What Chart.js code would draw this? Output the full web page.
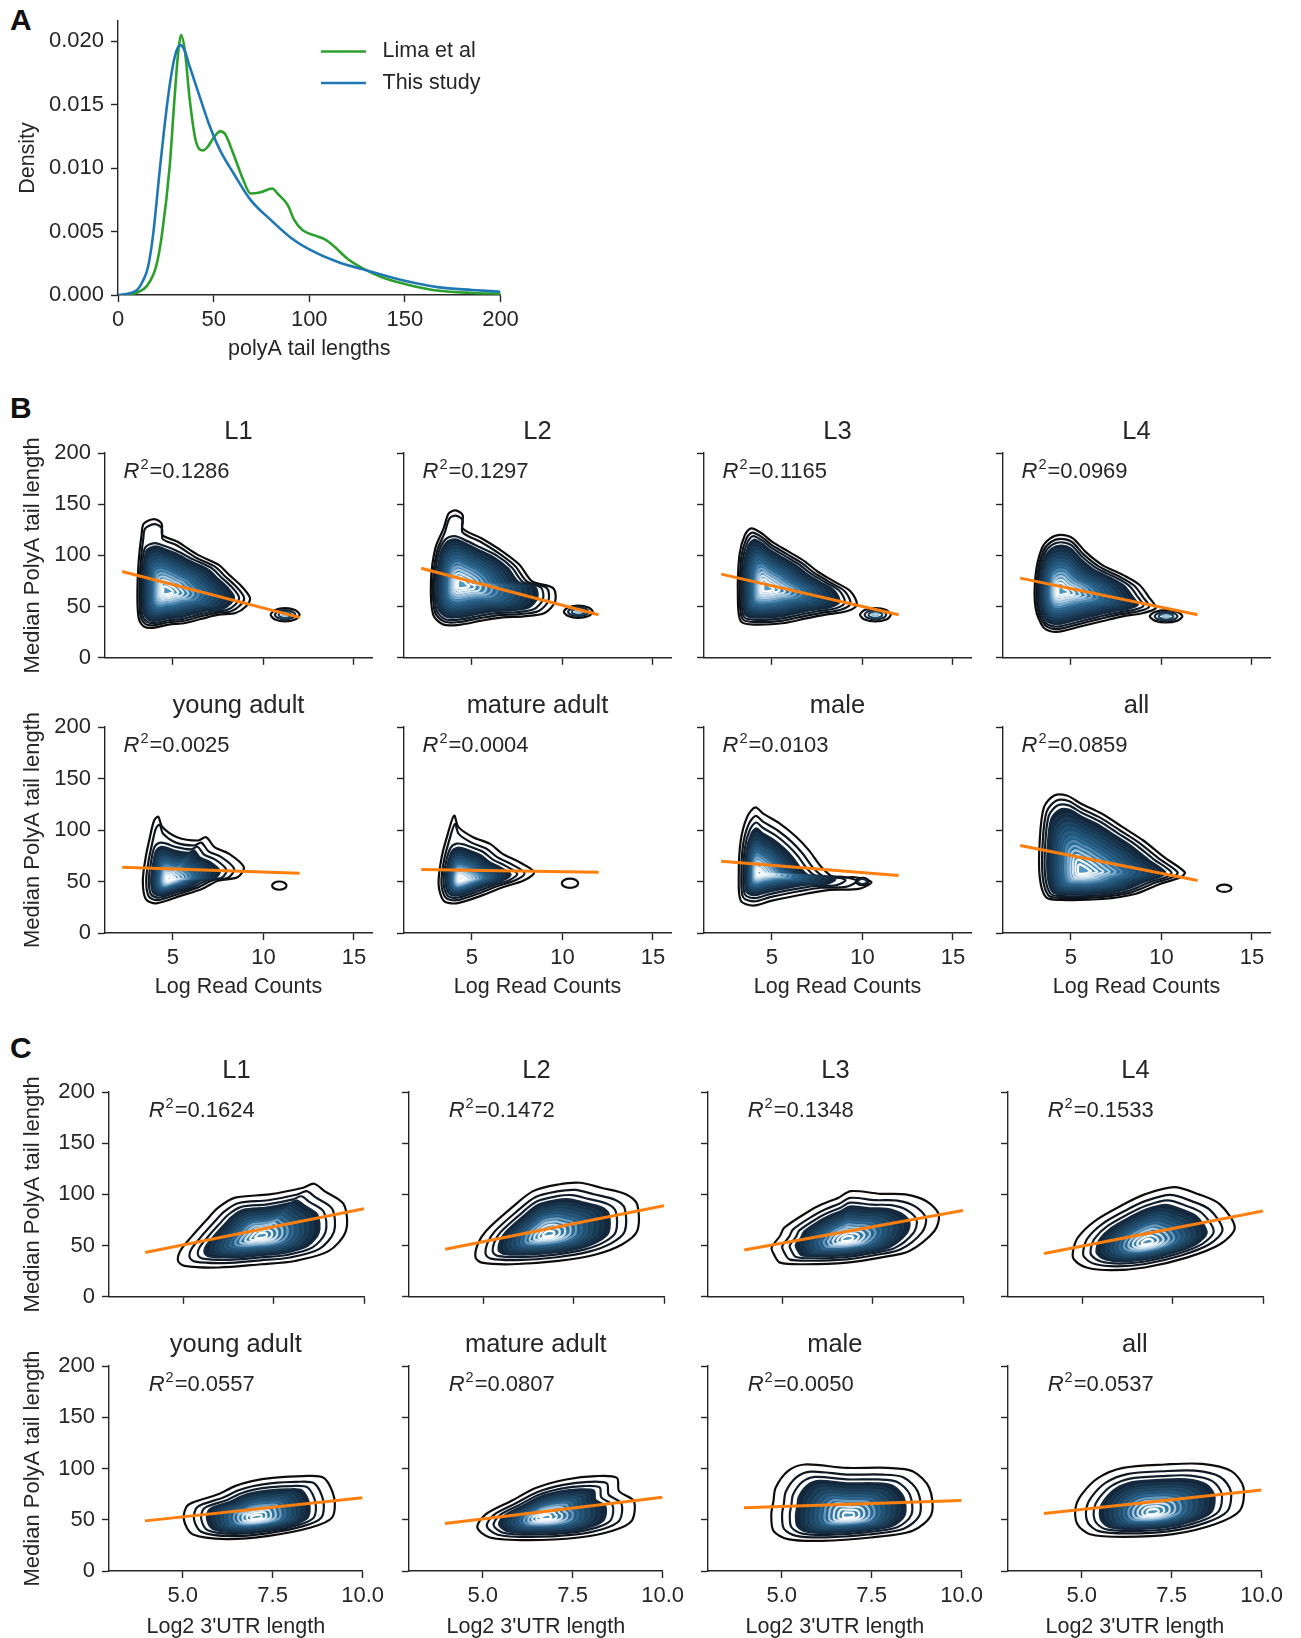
<!DOCTYPE html>
<html>
<head>
<meta charset="utf-8">
<title>polyA tail lengths</title>
<script src="https://cdn.jsdelivr.net/npm/chart.js@4.4.1/dist/chart.umd.min.js"></script>
<style>
  html, body { margin: 0; padding: 0; background: #fff; }
  body { position: relative; width: 1301px; height: 1638px; overflow: hidden; font-family: "Liberation Sans", Arial, sans-serif; }
  canvas { position: absolute; }
  .panel-letter { position: absolute; font-size: 30px; font-weight: bold; line-height: 1; color: #111; }
</style>
</head>
<body>
<div class="panel-letter" style="left:10px;top:5px">A</div>
<div class="panel-letter" style="left:10px;top:393px">B</div>
<div class="panel-letter" style="left:10px;top:1033px">C</div>
<script>
// ---- panel A: tail length densities ----
const limaLength = [0, 5, 10, 15, 20, 23, 27, 29.5, 31.6, 33, 35, 37.5, 40.6, 44.5, 47, 50, 53.4, 56, 60.4, 65.7, 69.3, 74.6, 80.7, 83.4, 88.7, 92.2, 96.6, 102.8, 108, 112.5, 120.5, 129.3, 138, 150.5, 164.6, 185.8, 200];
const limaDensity = [0, 0.00003, 0.0002, 0.0007, 0.0023, 0.0048, 0.0101, 0.0154, 0.0193, 0.0205, 0.0192, 0.0154, 0.0122, 0.0114, 0.0117, 0.0124, 0.0129, 0.0127, 0.0111, 0.0090, 0.0080, 0.0081, 0.0084, 0.0080, 0.0071, 0.0059, 0.0051, 0.0047, 0.0044, 0.0039, 0.0028, 0.0020, 0.0014, 0.00085, 0.0004, 0.00016, 0.0001];
const studyLength = [0, 5, 10, 13, 15.7, 18.4, 22, 26, 28.6, 30.5, 32.5, 34.5, 37.5, 42.8, 48, 53.4, 60.4, 69.3, 80, 90.5, 100, 115, 131, 150.5, 168, 185, 200];
const studyDensity = [0, 0.0001, 0.0004, 0.0011, 0.0022, 0.0048, 0.0101, 0.0154, 0.0180, 0.0192, 0.0197, 0.0194, 0.0180, 0.0156, 0.0133, 0.0114, 0.0096, 0.0075, 0.0059, 0.0045, 0.0036, 0.0026, 0.0019, 0.0011, 0.0006, 0.0004, 0.00026];
const densityTicks = [0, 0.005, 0.01, 0.015, 0.02];
const lengthTicks = [0, 50, 100, 150, 200];

// ---- panels B and C ----
const groupTitles = ['L1', 'L2', 'L3', 'L4', 'young adult', 'mature adult', 'male', 'all'];
const tailTicks = [0, 50, 100, 150, 200];
const readTicks = [5, 10, 15];
const utrTicks = [5, 7.5, 10];

const readR2 = ['0.1286', '0.1297', '0.1165', '0.0969', '0.0025', '0.0004', '0.0103', '0.0859'];
const utrR2 = ['0.1624', '0.1472', '0.1348', '0.1533', '0.0557', '0.0807', '0.0050', '0.0537'];

// regression line ends
const readFitX = [2.2, 12.0];
const readFitY = [[84.3, 39.5], [87.5, 42.1], [81.7, 42.1], [77.8, 42.1], [63.9, 58], [61.6, 59], [69.7, 55.8], [84.9, 50.9]];
const utrFitX = [3.95, 10.0];
const utrFitY = [[43.2, 86], [46.4, 89], [45.8, 84.4], [42.2, 83.8], [48.9, 71.5], [46.3, 72], [61.8, 68.9], [56, 79]];

// density peak and outer contour of each kde (read counts vs tail length)
const readCores = [[4.6, 65], [4.37, 71.3], [4.66, 68], [4.43, 64.8], [4.77, 52.5], [4.37, 52.5], [4.27, 58], [5.6, 60]];
const readOutlines = [
  [[3.04, 61.6], [3.11, 94], [3.27, 120], [3.39, 131], [3.96, 135.5], [4.38, 131], [4.42, 120], [5.23, 113.5], [6.38, 100.5], [7.53, 90.8], [8.11, 81], [8.8, 69.7], [9.26, 58.3], [9.03, 50.2], [8.46, 43.8], [7.53, 42.1], [6.61, 38.2], [5.69, 34], [4.77, 32.4], [3.85, 29.2], [3.39, 30.8], [3.11, 38.9]],
  [[2.74, 74.6], [2.98, 107], [3.44, 126.4], [3.72, 141], [4.09, 144], [4.49, 139.4], [4.49, 126.4], [5.53, 116.7], [6.7, 103.7], [7.63, 90.8], [8.33, 74.6], [9.49, 68], [9.6, 55], [9.02, 43.8], [7.86, 40.5], [6.7, 39.5], [5.53, 36.3], [4.37, 32.4], [3.44, 32.4], [2.86, 42.1]],
  [[3.12, 61.6], [3.21, 100.5], [3.51, 120], [3.86, 126.4], [4.43, 121.6], [5, 113.5], [5.92, 103.7], [6.83, 94], [7.52, 84.3], [8.43, 74.6], [9.35, 64.8], [9.69, 51.9], [9.12, 45.4], [7.97, 42.1], [6.83, 38.2], [5.69, 34], [4.08, 32.4], [3.28, 35.7]],
  [[3.05, 81], [3.4, 107], [3.86, 116.7], [4.43, 120], [5.11, 116.7], [5.8, 103.7], [6.72, 90.8], [7.86, 81], [8.78, 71.3], [9.35, 58.3], [9.69, 48.6], [9, 43.8], [7.86, 40.5], [6.72, 35.7], [5.57, 30.8], [4.2, 25.3], [3.51, 29.2], [3.05, 48.6]],
  [[3.34, 50.9], [3.5, 73.6], [3.73, 93], [3.96, 109], [4.19, 113], [4.42, 102.8], [5.23, 93], [6.38, 89.8], [6.84, 93], [7.3, 83.3], [8.11, 76.8], [8.92, 63.9], [8.57, 54.1], [7.53, 50.9], [6.61, 42.8], [5.46, 36.3], [4.08, 28.8], [3.5, 33]],
  [[3.16, 47.6], [3.33, 73.6], [3.67, 96.3], [4.02, 114], [4.26, 102.8], [5.07, 93], [6, 86.5], [6.7, 76.8], [7.63, 68.7], [8.44, 59], [7.86, 50.9], [6.7, 44.4], [5.53, 36.3], [4.14, 28.8], [3.44, 31.4]],
  [[3.17, 57.4], [3.28, 89.8], [3.63, 112.5], [4.08, 122], [4.54, 115.7], [5.46, 106], [6.37, 93], [7.06, 80], [7.74, 63.9], [8.43, 54.1], [9.58, 54.1], [10.5, 49.3], [9.8, 42.8], [8.2, 41.8], [6.83, 37.9], [5, 31.4], [3.97, 26.6], [3.28, 31.4]],
  [[3.28, 54.1], [3.28, 89.8], [3.51, 122], [4.08, 133.5], [4.77, 133.5], [5.57, 125.5], [6.72, 115.7], [7.86, 102.8], [9, 89.8], [10.15, 73.6], [11.29, 59], [11.06, 54.1], [9.92, 47.6], [8.55, 37.9], [6.72, 33], [4.43, 32.1], [3.63, 34.7]]
];
// inner levels of the kdes whose outer contour has a narrow spike on top (null = same as outer)
const readBodies = [
  [[3.04, 61.6], [3.11, 94], [3.3, 114], [3.9, 119], [4.5, 116], [5.23, 111], [6.38, 100.5], [7.53, 90.8], [8.11, 81], [8.8, 69.7], [9.26, 58.3], [9.03, 50.2], [8.46, 43.8], [7.53, 42.1], [6.61, 38.2], [5.69, 34], [4.77, 32.4], [3.85, 29.2], [3.39, 30.8], [3.11, 38.9]],
  [[2.74, 74.6], [2.98, 107], [3.4, 122], [4.0, 126], [4.6, 122], [5.53, 114], [6.7, 103.7], [7.63, 90.8], [8.33, 74.6], [9.49, 68], [9.6, 55], [9.02, 43.8], [7.86, 40.5], [6.7, 39.5], [5.53, 36.3], [4.37, 32.4], [3.44, 32.4], [2.86, 42.1]],
  null,
  null,
  [[3.34, 50.9], [3.5, 73.6], [3.73, 92], [4.1, 98], [4.6, 97], [5.23, 93], [6.38, 89.8], [6.84, 93], [7.3, 83.3], [8.11, 76.8], [8.92, 63.9], [8.57, 54.1], [7.53, 50.9], [6.61, 42.8], [5.46, 36.3], [4.08, 28.8], [3.5, 33]],
  [[3.16, 47.6], [3.33, 73.6], [3.67, 92], [4.1, 97], [4.6, 96], [5.07, 93], [6, 86.5], [6.7, 76.8], [7.63, 68.7], [8.44, 59], [7.86, 50.9], [6.7, 44.4], [5.53, 36.3], [4.14, 28.8], [3.44, 31.4]],
  null,
  null
];
// the small separate blob at high read counts
const readSatellites = [
  [[10.4, 42], [10.65, 46.6], [11.2, 48.5], [11.75, 46.6], [12, 42], [11.75, 37.4], [11.2, 35.5], [10.65, 37.4]],
  [[10.08, 45], [10.32, 49.2], [10.88, 51], [11.44, 49.2], [11.68, 45], [11.44, 40.8], [10.88, 39], [10.32, 40.8]],
  [[9.87, 42], [10.12, 46.6], [10.72, 48.5], [11.32, 46.6], [11.57, 42], [11.32, 37.4], [10.72, 35.5], [10.12, 37.4]],
  [[9.36, 40.5], [9.63, 44.7], [10.26, 46.5], [10.89, 44.7], [11.16, 40.5], [10.89, 36.3], [10.26, 34.5], [9.63, 36.3]],
  [[10.48, 46], [10.6, 48.8], [10.88, 50], [11.16, 48.8], [11.28, 46], [11.16, 43.2], [10.88, 42], [10.6, 43.2]],
  [[9.97, 48.3], [10.1, 51.5], [10.42, 52.8], [10.74, 51.5], [10.87, 48.3], [10.74, 45.1], [10.42, 43.8], [10.1, 45.1]],
  [[9.65, 50], [9.75, 52.5], [10, 53.5], [10.25, 52.5], [10.35, 50], [10.25, 47.5], [10, 46.5], [9.75, 47.5]],
  [[13.07, 43.4], [13.19, 45.9], [13.47, 46.9], [13.75, 45.9], [13.87, 43.4], [13.75, 40.9], [13.47, 39.9], [13.19, 40.9]]
];
const readSatRings = [4, 4, 4, 4, 1, 1, 2, 1];

// density peak and outer contour of each kde (3'UTR length vs tail length)
const utrCores = [[7.15, 59.4], [6.79, 61], [6.79, 56.2], [6.79, 53], [7.04, 52.1], [6.73, 52.1], [6.85, 53.7], [6.96, 57]];
const utrOutlines = [
  [[4.86, 35], [5.04, 30.2], [5.97, 28.6], [7.15, 31.8], [8.09, 35], [9.03, 44.8], [9.5, 64.3], [9.44, 90.3], [8.91, 103.2], [8.62, 110.4], [8.32, 106.5], [7.38, 100], [6.44, 96.8], [5.97, 87], [5.62, 74], [5.21, 57.8], [4.92, 44.8]],
  [[4.79, 38.3], [4.96, 33.4], [5.79, 31.8], [7.08, 35], [8.14, 41.6], [8.85, 51.3], [9.26, 64.3], [9.26, 90.3], [8.96, 100], [8.26, 106.5], [7.67, 111.4], [7.08, 109.7], [6.38, 103.2], [5.79, 87], [5.08, 64.3], [4.85, 51.3]],
  [[4.77, 41.6], [4.94, 33.4], [5.64, 31.8], [6.79, 33.4], [7.71, 38.3], [8.52, 44.8], [9.21, 64.3], [9.33, 80.5], [8.98, 93.5], [8.41, 100], [7.71, 100.6], [6.9, 103.2], [6.56, 96.8], [6.1, 90.3], [5.75, 83.8], [5.06, 67.5], [4.94, 59.4], [4.71, 48]],
  [[4.77, 36.7], [5.12, 28.6], [5.81, 26], [6.73, 28.6], [7.89, 38.3], [8.81, 51.3], [9.22, 67.5], [8.81, 90.3], [8.23, 100], [7.54, 107.1], [6.73, 100], [6.15, 90.3], [5.35, 74], [4.88, 57.8], [4.75, 44.8]],
  [[5.09, 61.8], [5.04, 48.9], [5.27, 35.9], [6.21, 31.1], [7.39, 34.3], [8.56, 42.4], [9.15, 52.1], [9.21, 71.5], [8.92, 90.9], [8.33, 92.6], [7.5, 90.9], [6.92, 87.7], [6.45, 82.8], [5.98, 74.8], [5.27, 66.7]],
  [[4.85, 42.4], [5.2, 32.7], [6.26, 30.1], [7.67, 32.7], [8.61, 39.2], [9.14, 48.9], [9.2, 68.3], [8.79, 78], [8.73, 90.9], [8.14, 92.6], [7.32, 89.3], [6.49, 81.2], [5.79, 68.3], [5.08, 55.3]],
  [[4.71, 55.3], [4.77, 39.2], [5.17, 31.1], [6.1, 29.4], [7.48, 32.7], [8.64, 39.2], [9.16, 55.3], [9.1, 81.2], [8.64, 97.4], [7.94, 100.6], [6.79, 100.6], [5.64, 103.9], [5.17, 97.4], [4.83, 81.2], [4.77, 68.3]],
  [[4.83, 61.8], [4.88, 45.6], [5.23, 35.9], [6.15, 33.3], [7.54, 35.9], [8.7, 45.6], [9.39, 58.6], [9.5, 81.2], [9.16, 97.4], [8.35, 104.5], [7.31, 103.9], [6.15, 100.6], [5.46, 90.9], [5, 74.8]]
];

// contour look (dark outer levels, light inner levels)
const readRingScale = [1, 0.93, 0.87, 0.81, 0.75, 0.69, 0.63, 0.57, 0.51, 0.45, 0.39, 0.33, 0.27, 0.21, 0.15, 0.09];
const readRingScaleWide = [1, 0.87, 0.77, 0.68, 0.61, 0.55, 0.49, 0.44, 0.39, 0.34, 0.29, 0.24, 0.19, 0.14, 0.09, 0.05];
const readWide = [false, false, false, false, true, true, true, false];
const readRingStroke = ['#0d0d0d', '#0f151c', '#101d2a', '#14293d', '#17324a', '#1a3c57', '#1e4665', '#225173', '#285c81', '#30688f', '#4f88b0', '#7eaacb', '#abcae0', '#d3e4f0', '#ecf4f9', '#ffffff'];
const readRingFill = [null, null, null, '#112436', '#142d44', '#173751', '#1a415f', '#1d4b6d', '#21567b', '#256189', '#296b96', '#2e74a0', '#337da9', '#3985b0', '#418cb5', '#5097bf'];
const utrRingScale = [1, 0.86, 0.76, 0.68, 0.61, 0.55, 0.49, 0.43, 0.37, 0.31, 0.25, 0.19, 0.13, 0.07];
const utrRingStroke = ['#0d0d0d', '#0f1620', '#111e2d', '#152a3f', '#18344c', '#1c3f5a', '#204a68', '#265677', '#306891', '#6b9cc0', '#a6c6dd', '#d3e3ef', '#eef5fa', '#ffffff'];
const utrRingFill = [null, null, null, '#13263a', '#163047', '#193a54', '#1d4562', '#215071', '#265b80', '#2a668e', '#2f709b', '#347aa6', '#3a83ae', '#4a8fb8'];
const satRingScale = [1, 0.7, 0.45, 0.2];
const satRingStroke = ['#0d0d0d', '#15283a', '#1d4560', '#9cc0d6'];

const FONT = '"Liberation Sans", Arial, Helvetica, sans-serif';
const INK = '#262626';
const ORANGE = '#ff7f0e';
Chart.defaults.font.family = FONT;
Chart.defaults.color = INK;

function addCanvas(left, top, w, h) {
    const c = document.createElement('canvas');
    c.width = w;
    c.height = h;
    c.style.left = left + 'px';
    c.style.top = top + 'px';
    c.style.width = w + 'px';
    c.style.height = h + 'px';
    document.body.appendChild(c);
    return c;
}

function scaleCfg(o) {
    return {
        type: 'linear',
        min: o.min,
        max: o.max,
        bounds: 'data',
        afterBuildTicks: s => { s.ticks = o.ticks.map(v => ({ value: v })); },
        afterFit: s => {
            if (o.w != null) s.width = o.w;
            if (o.h != null) s.height = o.h;
        },
        grid: { drawOnChartArea: false, drawTicks: true, tickLength: 7, tickColor: INK, tickWidth: 1.4, color: INK },
        border: { display: true, color: INK, width: 1.4 },
        ticks: { autoSkip: false, maxRotation: 0, padding: o.pad != null ? o.pad : 5, font: { size: 22 }, color: INK, callback: o.fmt },
        title: o.title
            ? { display: true, text: o.title, font: { size: o.titleSize || 21.5 }, color: INK, padding: o.titlePad }
            : { display: false }
    };
}

const r2Label = {
    id: 'r2Label',
    afterDatasetsDraw(chart, args, opts) {
        const { ctx, chartArea } = chart;
        let x = chartArea.left + opts.dx;
        const y = chartArea.top + opts.dy;
        ctx.save();
        ctx.fillStyle = INK;
        ctx.textAlign = 'left';
        ctx.textBaseline = 'alphabetic';
        ctx.font = 'italic 22px ' + FONT;
        ctx.fillText('R', x, y);
        x += ctx.measureText('R').width + 1;
        ctx.font = '14.5px ' + FONT;
        ctx.fillText('2', x, y - 9.5);
        x += ctx.measureText('2').width + 1;
        ctx.font = '22px ' + FONT;
        ctx.fillText('=' + opts.text, x, y);
        ctx.restore();
    }
};

const sideLegend = {
    id: 'sideLegend',
    afterDraw(chart, args, opts) {
        const { ctx, chartArea } = chart;
        const items = chart.data.datasets.slice().sort((a, b) => b.order - a.order);
        items.forEach((ds, i) => {
            const y = chartArea.top + opts.y0 + i * opts.step;
            ctx.save();
            ctx.strokeStyle = ds.borderColor;
            ctx.lineWidth = ds.borderWidth;
            ctx.beginPath();
            ctx.moveTo(chartArea.left + opts.x0, y);
            ctx.lineTo(chartArea.left + opts.x1, y);
            ctx.stroke();
            ctx.fillStyle = INK;
            ctx.font = '21.5px ' + FONT;
            ctx.textBaseline = 'middle';
            ctx.fillText(ds.label, chartArea.left + opts.tx, y);
            ctx.restore();
        });
    }
};

function toPoints(xs, ys) {
    return xs.map((x, i) => ({ x: x, y: ys[i] }));
}

// one closed line per contour level, shrunk toward the density peak.
// the path is padded with one point before and two after so every drawn
// segment has neighbours on both sides; the padding segments are hidden.
function ringSet(outline, core, s, stroke, fillCol, order) {
    const ring = outline.map(p => ({ x: core[0] + (p[0] - core[0]) * s, y: core[1] + (p[1] - core[1]) * s }));
    const n = ring.length;
    const pts = [Object.assign({}, ring[n - 1])].concat(ring, [Object.assign({}, ring[0]), Object.assign({}, ring[1])]);
    const last = pts.length - 1;
    return {
        data: pts,
        borderColor: stroke,
        backgroundColor: fillCol || 'rgba(0,0,0,0)',
        fill: fillCol ? 'shape' : false,
        borderWidth: 2.2,
        pointRadius: 0,
        tension: 0.3,
        order: order,
        segment: {
            borderColor: c => (c.p0DataIndex === 0 || c.p1DataIndex === last) ? 'rgba(0,0,0,0)' : undefined
        }
    };
}

function ringSets(outline, body, core, scales, strokes, fills, orderBase) {
    return scales.map((s, k) => ringSet(k < 2 || !body ? outline : body, core, s, strokes[k], fills ? fills[k] : null, orderBase - k));
}

function centroid(poly) {
    const sx = poly.reduce((a, p) => a + p[0], 0);
    const sy = poly.reduce((a, p) => a + p[1], 0);
    return [sx / poly.length, sy / poly.length];
}

// ---- panel A ----
(function () {
    const canvas = addCanvas(0, 0, 530, 366);
    new Chart(canvas, {
        type: 'line',
        data: {
            datasets: [
                { label: 'Lima et al', data: toPoints(limaLength, limaDensity), borderColor: '#2ca02c', borderWidth: 2.6, pointRadius: 0, cubicInterpolationMode: 'monotone', order: 2 },
                { label: 'This study', data: toPoints(studyLength, studyDensity), borderColor: '#1f77b4', borderWidth: 2.6, pointRadius: 0, cubicInterpolationMode: 'monotone', order: 1 }
            ]
        },
        options: {
            responsive: false,
            animation: false,
            devicePixelRatio: 1,
            layout: { padding: { top: 21, right: 29.5, left: 0, bottom: 0 } },
            plugins: {
                legend: { display: false },
                tooltip: { enabled: false },
                sideLegend: { x0: 203, x1: 248, tx: 264.5, y0: 30.5, step: 31.5 }
            },
            scales: {
                x: scaleCfg({ min: 0, max: 200, ticks: lengthTicks, h: 71, fmt: v => String(v), title: 'polyA tail lengths', titlePad: { top: 0, bottom: 4 } }),
                y: scaleCfg({ min: 0, max: 0.0216, ticks: densityTicks, w: 118, pad: 7, fmt: v => v.toFixed(3), title: 'Density', titlePad: { top: 15, bottom: 0 } })
            }
        },
        plugins: [sideLegend]
    });
})();

// ---- panels B and C ----
function contourPanel(cfg) {
    const yW = cfg.col === 0 ? cfg.plotLeft : 30;
    const topPad = 52;
    const w = yW + cfg.plotW + 25;
    const h = topPad + cfg.plotH + cfg.xH;
    const canvas = addCanvas(cfg.plotLeft - yW, cfg.plotTop - topPad, w, h);
    const bottomRow = cfg.row === 1;
    new Chart(canvas, {
        type: 'line',
        data: { datasets: cfg.datasets },
        options: {
            responsive: false,
            animation: false,
            devicePixelRatio: 1,
            layout: { padding: { top: 0, right: 25, left: 0, bottom: 0 } },
            plugins: {
                legend: { display: false },
                tooltip: { enabled: false },
                title: { display: true, text: cfg.title, fullSize: false, font: { size: 25.5, weight: 'normal' }, color: INK, padding: { top: 16, bottom: 5.4 } },
                r2Label: { text: cfg.r2, dx: cfg.r2dx, dy: 25 }
            },
            scales: {
                x: scaleCfg({
                    min: cfg.xMin, max: cfg.xMax, ticks: cfg.xTicks, h: cfg.xH,
                    fmt: bottomRow ? cfg.xFmt : () => '',
                    title: bottomRow ? cfg.xTitle : null,
                    titlePad: { top: 0, bottom: cfg.xTitleBottom }
                }),
                y: scaleCfg({
                    min: 0, max: 200, ticks: tailTicks, w: yW, pad: 7,
                    fmt: cfg.col === 0 ? v => String(v) : () => '',
                    title: cfg.col === 0 ? 'Median PolyA tail length' : null,
                    titleSize: 22,
                    titlePad: { top: 20.2, bottom: 0 }
                })
            }
        },
        plugins: [r2Label]
    });
}

const readCols = [105, 404, 704, 1003];
const readRows = [{ top: 453, h: 205, xH: 20 }, { top: 727, h: 206, xH: 69 }];
const utrCols = [109, 409, 708, 1008];
const utrRows = [{ top: 1092, h: 205, xH: 20 }, { top: 1366, h: 205, xH: 69 }];

groupTitles.forEach((title, i) => {
    const row = Math.floor(i / 4);
    const col = i % 4;

    // B: log read counts
    const scales = readWide[i] ? readRingScaleWide : readRingScale;
    let sets = ringSets(readOutlines[i], readBodies[i], readCores[i], scales, readRingStroke, readRingFill, 500);
    const sat = readSatellites[i];
    sets = sets.concat(ringSets(sat, null, centroid(sat), satRingScale.slice(0, readSatRings[i]), satRingStroke, null, 200));
    sets.push({
        data: toPoints(readFitX, readFitY[i]), borderColor: ORANGE, borderWidth: 3, pointRadius: 0, tension: 0, order: 0
    });
    contourPanel({
        row, col, title, r2: readR2[i], r2dx: 18.5,
        plotLeft: readCols[col], plotW: 267, plotTop: readRows[row].top, plotH: readRows[row].h, xH: readRows[row].xH,
        xMin: 1.25, xMax: 16, xTicks: readTicks, xFmt: v => String(v),
        xTitle: 'Log Read Counts', xTitleBottom: 2,
        datasets: sets
    });

    // C: log2 3'UTR length
    const usets = ringSets(utrOutlines[i], null, utrCores[i], utrRingScale, utrRingStroke, utrRingFill, 500);
    usets.push({
        data: toPoints(utrFitX, utrFitY[i]), borderColor: ORANGE, borderWidth: 3, pointRadius: 0, tension: 0, order: 0
    });
    contourPanel({
        row, col, title, r2: utrR2[i], r2dx: 39.7,
        plotLeft: utrCols[col], plotW: 255, plotTop: utrRows[row].top, plotH: utrRows[row].h, xH: utrRows[row].xH,
        xMin: 2.95, xMax: 10, xTicks: utrTicks, xFmt: v => v.toFixed(1),
        xTitle: "Log2 3'UTR length", xTitleBottom: 0,
        datasets: usets
    });
});
</script>
</body>
</html>
